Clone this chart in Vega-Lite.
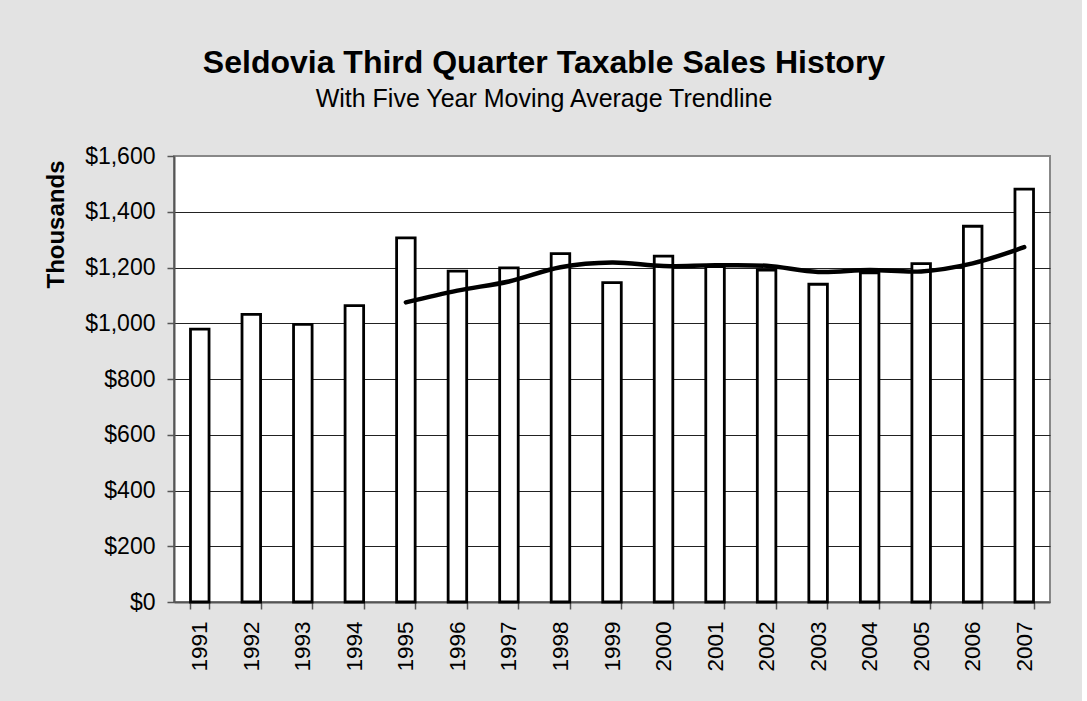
{
  "$schema": "https://vega.github.io/schema/vega-lite/v6.json",
  "width": 876,
  "height": 446,
  "autosize": {"type": "none"},
  "padding": {"left": 174, "top": 156, "right": 32, "bottom": 99},
  "background": "#E3E3E3",
  "title": {
    "text": "Seldovia Third Quarter Taxable Sales History",
    "subtitle": "With Five Year Moving Average Trendline",
    "anchor": "middle",
    "frame": "group",
    "dx": -68,
    "offset": 32,
    "font": "Liberation Sans",
    "fontSize": 32,
    "fontWeight": "bold",
    "color": "#000000",
    "subtitleFont": "Liberation Sans",
    "subtitleFontSize": 25,
    "subtitleColor": "#000000",
    "subtitlePadding": 7
  },
  "data": {
    "values": [
      {"year": "1991", "sales": 979, "avg": null},
      {"year": "1992", "sales": 1032, "avg": null},
      {"year": "1993", "sales": 996, "avg": null},
      {"year": "1994", "sales": 1063, "avg": null},
      {"year": "1995", "sales": 1306, "avg": 1075},
      {"year": "1996", "sales": 1187, "avg": 1117},
      {"year": "1997", "sales": 1199, "avg": 1150},
      {"year": "1998", "sales": 1250, "avg": 1201},
      {"year": "1999", "sales": 1146, "avg": 1218},
      {"year": "2000", "sales": 1241, "avg": 1205},
      {"year": "2001", "sales": 1203, "avg": 1208},
      {"year": "2002", "sales": 1191, "avg": 1206},
      {"year": "2003", "sales": 1140, "avg": 1184},
      {"year": "2004", "sales": 1181, "avg": 1191},
      {"year": "2005", "sales": 1214, "avg": 1186},
      {"year": "2006", "sales": 1348, "avg": 1215},
      {"year": "2007", "sales": 1481, "avg": 1273}
    ]
  },
  "encoding": {
    "x": {
      "field": "year",
      "type": "ordinal",
      "scale": {"paddingInner": 0.64, "paddingOuter": 0.32},
      "axis": {
        "title": null,
        "labelAngle": -90,
        "labelAlign": "right",
        "labelBaseline": "middle",
        "labelFont": "Liberation Sans",
        "labelFontSize": 22.5,
        "labelColor": "#000000",
        "labelPadding": 12,
        "tickBand": "extent",
        "tickSize": 7,
        "tickColor": "#555555",
        "tickWidth": 1.5,
        "domainColor": "#555555",
        "domainWidth": 2,
        "grid": false
      }
    }
  },
  "layer": [
    {
      "mark": {"type": "bar", "fill": "#FFFFFF", "stroke": "#000000", "strokeWidth": 2.8},
      "encoding": {
        "y": {
          "field": "sales",
          "type": "quantitative",
          "scale": {"domain": [0, 1600], "nice": false},
          "axis": {
            "title": "Thousands",
            "titleFont": "Liberation Sans",
            "titleFontSize": 24,
            "titleFontWeight": "bold",
            "titleColor": "#000000",
            "titleAnchor": "end",
            "titlePadding": 16,
            "titleY": 4,
            "values": [0, 200, 400, 600, 800, 1000, 1200, 1400, 1600],
            "format": "$,.0f",
            "labelFont": "Liberation Sans",
            "labelFontSize": 23,
            "labelColor": "#000000",
            "labelPadding": 12,
            "tickSize": 7,
            "tickColor": "#555555",
            "tickWidth": 1.5,
            "domainColor": "#555555",
            "domainWidth": 2,
            "grid": true,
            "gridColor": {"condition": {"test": "datum.value === 1600 || datum.value === 0", "value": "#888888"}, "value": "#222222"},
            "gridWidth": 1,
            "gridOpacity": 1
          }
        }
      }
    },
    {
      "mark": {"type": "line", "color": "#000000", "strokeWidth": 4.5, "interpolate": "catmull-rom", "strokeCap": "round"},
      "transform": [{"filter": "datum.avg != null"}],
      "encoding": {
        "y": {"field": "avg", "type": "quantitative"}
      }
    }
  ],
  "config": {
    "view": {"stroke": "#888888", "strokeWidth": 2, "fill": "#FFFFFF"}
  }
}
